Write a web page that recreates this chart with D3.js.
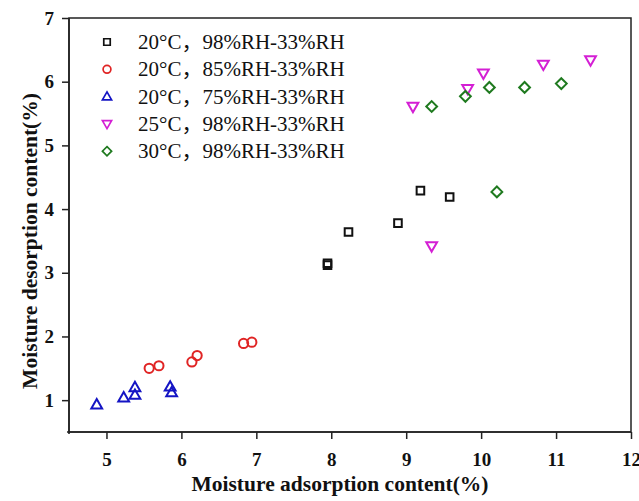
<!DOCTYPE html>
<html>
<head>
<meta charset="utf-8">
<script src="https://cdn.jsdelivr.net/npm/d3@7"></script>
<style>
  html, body { margin: 0; padding: 0; background: #fff; }
  svg { display: block; }
  text { font-family: "Liberation Serif", "Times New Roman", serif; fill: #111; }
</style>
</head>
<body>
<svg id="chart" width="639" height="501"></svg>
<script>
// Series: moisture adsorption (x) vs desorption (y), percent
const seriesNames = [
  "20°C\uFF0C98%RH-33%RH",
  "20°C\uFF0C85%RH-33%RH",
  "20°C\uFF0C75%RH-33%RH",
  "25°C\uFF0C98%RH-33%RH",
  "30°C\uFF0C98%RH-33%RH"
];
const adsorb20_98 = [7.95, 7.95, 8.23, 8.89, 9.19, 9.58];
const desorb20_98 = [3.15, 3.12, 3.64, 3.78, 4.29, 4.19];
const adsorb20_85 = [5.57, 5.70, 6.14, 6.21, 6.83, 6.94];
const desorb20_85 = [1.50, 1.54, 1.60, 1.70, 1.89, 1.91];
const adsorb20_75 = [4.87, 5.23, 5.38, 5.38, 5.85, 5.87];
const desorb20_75 = [0.93, 1.04, 1.08, 1.20, 1.21, 1.12];
const adsorb25_98 = [9.09, 9.34, 9.82, 10.03, 10.83, 11.46];
const desorb25_98 = [5.61, 3.42, 5.89, 6.13, 6.27, 6.34];
const adsorb30_98 = [9.34, 9.79, 10.11, 10.58, 11.07, 10.21];
const desorb30_98 = [5.61, 5.77, 5.91, 5.91, 5.97, 4.27];

const xTicks = [5, 6, 7, 8, 9, 10, 11, 12];
const yTicks = [1, 2, 3, 4, 5, 6, 7];

const colors = ["#111111", "#e02424", "#1414c4", "#d41fd4", "#1f7a1f"];
const shapes = ["square", "circle", "triangleUp", "triangleDown", "diamond"];

const series = [
  { name: seriesNames[0], x: adsorb20_98, y: desorb20_98 },
  { name: seriesNames[1], x: adsorb20_85, y: desorb20_85 },
  { name: seriesNames[2], x: adsorb20_75, y: desorb20_75 },
  { name: seriesNames[3], x: adsorb25_98, y: desorb25_98 },
  { name: seriesNames[4], x: adsorb30_98, y: desorb30_98 }
];

const svg = d3.select("#chart");
const plotLeft = 69, plotRight = 631, plotTop = 18, plotBottom = 432;

const x = d3.scaleLinear().domain([4.5, 12]).range([plotLeft, plotRight]);
const y = d3.scaleLinear().domain([0.5, 7]).range([plotBottom, plotTop]);

// Marker outlines, centered on the origin
function markerPath(shape) {
  const p = d3.path();
  if (shape === "square") {
    const h = 3.8; p.rect(-h, -h, 2 * h, 2 * h);
  } else if (shape === "circle") {
    p.arc(0, 0, 4.6, 0, 2 * Math.PI);
  } else if (shape === "triangleUp") {
    p.moveTo(0, -5.6); p.lineTo(5.4, 3.8); p.lineTo(-5.4, 3.8); p.closePath();
  } else if (shape === "triangleDown") {
    p.moveTo(0, 5.6); p.lineTo(5.4, -3.8); p.lineTo(-5.4, -3.8); p.closePath();
  } else {
    const d = 5.4;
    p.moveTo(0, -d); p.lineTo(d, 0); p.lineTo(0, d); p.lineTo(-d, 0); p.closePath();
  }
  return p.toString();
}

// Frame
svg.append("rect")
  .attr("x", plotLeft).attr("y", plotTop)
  .attr("width", plotRight - plotLeft).attr("height", plotBottom - plotTop)
  .attr("fill", "none").attr("stroke", "#222").attr("stroke-width", 1.5);

// Bottom axis with major and minor ticks
const xAxisG = svg.append("g").attr("transform", `translate(0,${plotBottom})`);
xAxisG.call(d3.axisBottom(x).tickValues(d3.range(4.5, 12.01, 0.5)).tickSize(3.5).tickFormat(""));
xAxisG.call(d3.axisBottom(x).tickValues(xTicks).tickSize(7).tickPadding(14).tickFormat(d3.format("d")));
xAxisG.selectAll(".domain").attr("stroke", "#222").attr("stroke-width", 1.6).attr("d", `M${plotLeft - 2},0H${plotRight}`);
xAxisG.selectAll(".tick line").attr("stroke", "#222").attr("stroke-width", 1.5);
xAxisG.selectAll(".tick text")
  .style("font-family", "'Liberation Serif', serif")
  .style("font-weight", "bold").style("font-size", "19px").attr("fill", "#111");

// Left axis with major and minor ticks
const yAxisG = svg.append("g").attr("transform", `translate(${plotLeft},0)`);
yAxisG.call(d3.axisLeft(y).tickValues(d3.range(0.5, 7.01, 0.5)).tickSize(3.5).tickFormat(""));
yAxisG.call(d3.axisLeft(y).tickValues(yTicks).tickSize(7).tickPadding(8).tickFormat(d3.format("d")));
yAxisG.selectAll(".domain").attr("stroke", "#222").attr("stroke-width", 1.6).attr("d", `M0,${plotTop}V${plotBottom + 2}`);
yAxisG.selectAll(".tick line").attr("stroke", "#222").attr("stroke-width", 1.5);
yAxisG.selectAll(".tick text")
  .style("font-family", "'Liberation Serif', serif")
  .style("font-weight", "bold").style("font-size", "19px").attr("fill", "#111");

// Axis titles
svg.append("text")
  .attr("x", 340).attr("y", 491)
  .attr("text-anchor", "middle")
  .style("font-weight", "bold").style("font-size", "21.5px")
  .text("Moisture adsorption content(%)");
svg.append("text")
  .attr("transform", "translate(37,241) rotate(-90)")
  .attr("text-anchor", "middle")
  .style("font-weight", "bold").style("font-size", "21.5px")
  .text("Moisture desorption content(%)");

// Data points
series.forEach((s, i) => {
  svg.append("g").selectAll("path")
    .data(s.x.map((v, j) => [v, s.y[j]]))
    .join("path")
    .attr("d", markerPath(shapes[i]))
    .attr("transform", d => `translate(${x(d[0])},${y(d[1])})`)
    .attr("fill", "none")
    .attr("stroke", colors[i])
    .attr("stroke-width", 2);
});

// Legend
const legend = svg.append("g").attr("transform", "translate(107,42)");
series.forEach((s, i) => {
  const row = legend.append("g").attr("transform", `translate(0,${i * 27.3})`);
  row.append("path")
    .attr("d", markerPath(shapes[i]))
    .attr("fill", "none").attr("stroke", colors[i]).attr("stroke-width", 2)
    .attr("transform", "scale(0.85)");
  row.append("text")
    .attr("x", 31).attr("y", 7)
    .style("font-family", "'Liberation Serif', 'Noto Sans CJK SC', serif")
    .style("font-size", "21px").attr("fill", "#333")
    .text(s.name);
});
</script>
</body>
</html>
